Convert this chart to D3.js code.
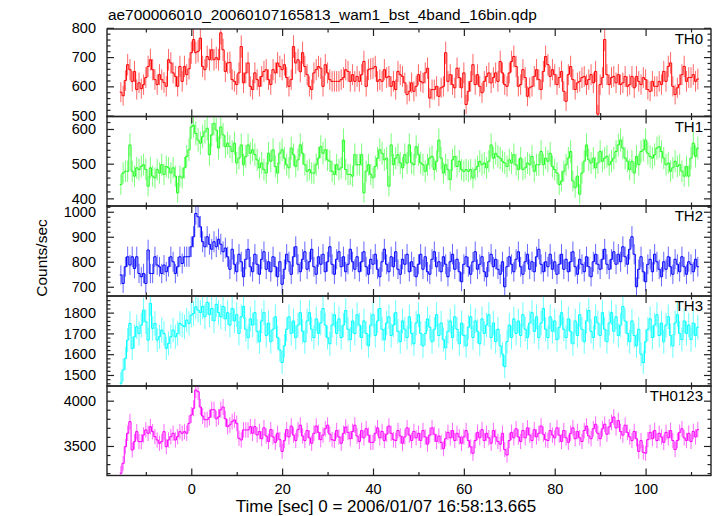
<!DOCTYPE html>
<html><head><meta charset="utf-8">
<script src="https://cdn.jsdelivr.net/npm/d3@7"></script>
<style>body{margin:0;background:#fff}svg{display:block}</style>
</head><body><svg id="c" width="717" height="516"></svg>
<script>
const title = "ae700006010_20060107165813_wam1_bst_4band_16bin.qdp";
const xLabel = "Time [sec] 0 = 2006/01/07 16:58:13.665";
const yLabel = "Counts/sec";
const binStart = -15.5, binWidth = 0.5;

const th0 = [
580,568,620,674,657,617,651,589,612,592,
606,630,668,691,657,623,606,640,623,613,
600,691,680,646,634,600,668,617,668,640,
660,715,760,715,720,765,668,657,702,691,
725,691,698,691,783,725,651,680,682,623,
617,606,646,736,612,646,680,600,589,646,
623,600,634,651,657,623,606,657,646,680,
668,657,674,630,600,623,736,680,691,650,
715,668,640,600,589,646,657,668,662,600,
674,646,623,617,617,617,617,623,630,657,
651,617,640,617,634,617,640,685,600,657,
660,662,668,617,623,617,657,630,634,600,
617,589,651,640,634,612,572,583,612,583,
600,640,617,612,646,662,560,589,589,600,
566,595,600,715,617,640,606,595,662,630,
595,646,538,583,617,674,606,640,600,578,
617,634,646,612,630,646,617,
685,646,606,600,646,685,702,668,600,606,
657,630,566,595,600,634,657,623,589,651,
702,674,634,657,640,606,630,651,583,549,
640,668,623,589,612,617,630,634,606,623,
640,612,651,505,606,630,760,640,606,630,
634,612,640,606,612,634,600,606,634,595,
634,617,606,630,623,589,583,617,600,600,
617,606,651,617,668,680,600,572,595,606,
640,668,617,630,630,640,617,625];

const th1 = [
440,473,478,478,554,478,464,488,483,492,
497,483,435,488,464,459,483,473,497,469,
492,488,473,488,464,416,464,459,488,521,
540,606,611,587,568,559,578,592,602,526,
583,616,597,545,606,583,549,559,549,535,
559,502,516,554,497,521,554,530,540,526,
511,488,502,483,473,530,507,540,492,473,
530,540,516,497,488,545,526,492,511,554,
530,497,478,483,473,473,497,516,549,530,
540,511,507,478,469,497,483,488,568,483,
469,469,464,526,497,497,526,416,478,497,
469,459,492,516,540,530,511,516,435,554,
497,516,526,502,488,526,502,
554,502,497,549,526,502,497,478,497,516,
521,483,507,568,516,473,497,483,454,511,
521,492,507,483,478,483,478,483,459,483,
492,507,497,502,488,507,554,516,530,521,
516,507,502,492,511,502,526,497,483,516,
483,488,502,497,521,478,497,497,535,497,
516,507,530,492,483,473,440,450,478,497,
516,535,450,431,464,412,473,507,554,511,
502,516,488,502,535,507,516,521,497,507,
516,535,554,568,545,516,507,483,507,473,
521,497,535,540,568,530,521,516,526,545,
549,535,516,497,502,478,488,507,492,497,
478,464,492,464,516,559,521,545];

const th2 = [
747,713,780,820,787,820,773,820,753,740,
753,713,847,753,753,820,787,780,753,787,
760,780,820,800,753,780,820,793,820,820,
820,860,900,993,980,
940,880,860,900,870,850,880,860,890,870,840,855,
820,770,850,790,760,830,800,740,810,850,780,760,
830,790,750,810,840,770,800,760,820,780,740,800,
710,770,830,800,750,820,860,790,760,810,840,770,
800,850,780,750,820,790,830,760,800,860,790,750,
810,840,780,820,760,790,850,800,770,820,760,800,
840,780,750,810,790,830,770,740,800,850,790,760,
820,780,840,770,750,810,790,830,760,800,780,740,
790,830,770,820,760,750,810,840,780,800,760,820,
790,740,800,830,770,810,760,720,790,820,780,750,
800,840,770,790,820,760,740,800,830,780,810,770,
750,800,700,780,820,790,760,810,840,780,750,800,
830,770,800,760,820,850,790,760,800,780,830,770,
800,750,790,830,770,810,760,800,840,780,750,810,
790,760,820,780,740,800,830,790,770,810,850,790,
770,810,840,790,830,800,860,820,790,850,900,830,
700,770,820,760,720,790,810,760,830,800,770,740,
800,770,820,780,750,810,790,760,820,780,750,800,
790,760,810,780];

const th3 = [
1460,1524,1580,1668,1748,1628,1684,1732,1700,1740,
1812,1756,1668,1845,1724,1748,1668,1684,1716,1700,
1628,1652,1684,1716,1684,1700,1748,1740,1732,1764,
1748,1788,1796,1828,1812,
1800,1830,1780,1850,1790,1820,1760,1840,1800,1780,1830,1770,
1800,1740,1820,1760,1790,1700,1780,1830,1720,1680,1770,1740,
1800,1710,1660,1760,1800,1690,1750,1660,1720,1780,1680,1620,
1560,1640,1720,1780,1700,1760,1680,1740,1800,1710,1660,1760,
1800,1720,1680,1770,1700,1750,1820,1740,1680,1650,1740,1790,
1700,1770,1680,1740,1810,1720,1670,1760,1700,1790,1740,1680,
1760,1700,1640,1740,1790,1690,1760,1820,1720,1670,1750,1780,
1690,1740,1800,1710,1660,1760,1720,1680,1780,1700,1650,1750,
1790,1700,1640,1700,1770,1730,1660,1720,1790,1690,1750,1670,
1630,1710,1760,1680,1780,1720,1650,1750,1690,1640,1730,1780,
1680,1760,1710,1650,1770,1700,1740,1790,1680,1750,1660,1720,
1640,1600,1540,1660,1740,1680,1770,1700,1760,1690,1790,1720,
1680,1750,1800,1710,1780,1680,1750,1820,1720,1680,1780,1710,
1760,1670,1730,1800,1720,1680,1770,1710,1650,1760,1690,1790,
1720,1660,1760,1810,1710,1680,1780,1750,1690,1800,1720,1660,
1750,1800,1710,1780,1690,1740,1830,1760,1700,1660,1760,1690,
1640,1720,1600,1560,1660,1720,1770,1680,1740,1790,1690,1750,
1660,1740,1780,1690,1640,1750,1790,1700,1670,1760,1700,1740,
1670,1750,1690,1730];

const th0123 = [
3199,3309,3492,3640,3768,3456,3548,3658,3548,3548,
3621,3677,3640,3713,3658,3603,3566,3530,3548,3658,
3492,3566,3603,3640,3566,3603,3658,3640,3658,3640,
3750,3842,3916,4118,4099,
3930,3830,3790,3790,3815,3900,3900,3800,3820,3900,3930,3800,
3713,3732,3768,3787,3750,3585,3566,3677,3677,3677,3713,3640,3713,3621,
3660,3580,3700,3610,3550,3680,3600,3540,3640,3570,
3440,3560,3680,3600,3720,3620,3560,3680,3730,3610,
3560,3670,3590,3530,3640,3720,3650,3570,3620,3690,
3730,3630,3570,3560,3670,3600,3530,3640,3710,3650,
3580,3660,3730,3610,3550,3670,3590,3690,3620,3540,
3540,3640,3700,3590,3660,3560,3630,3720,3640,3570,
3560,3670,3610,3530,3600,3700,3620,3560,3660,3590,
3640,3560,3670,3600,3520,3620,3700,3630,3550,3610,
3540,3470,3580,3650,3590,3670,3560,3640,3600,3530,
3600,3670,3560,3490,3420,3560,3650,3590,3680,3560,
3640,3590,3530,3670,3600,3550,3520,3640,3460,3400,
3560,3650,3590,3690,3600,3550,3670,3590,3700,3620,
3560,3680,3600,3640,3720,3630,3570,3560,3670,3620,
3590,3700,3620,3550,3670,3590,3540,3640,3700,3580,
3660,3590,3550,3670,3720,3610,3580,3690,3740,3640,
3580,3690,3740,3630,3710,3760,3820,3700,3780,3660,
3620,3730,3650,3600,3560,3660,3580,3440,3560,3430,
3420,3570,3650,3580,3670,3560,3640,3600,3540,3650,
3590,3670,3560,3460,3560,3650,3690,3590,3560,3640,
3550,3660,3600,3680];

const bands = ["TH0", "TH1", "TH2", "TH3", "TH0123"];
const series = [th0, th1, th2, th3, th0123];
const colors = ["#ff0000", "#22ff22", "#0000ff", "#00ffff", "#ff00ff"];
const yDomains = [[497, 796], [378, 636], [663, 1023], [1447, 1880], [3174, 4162]];
const yMajor = [[500, 600, 700, 800], [400, 500, 600], [700, 800, 900, 1000], [1500, 1600, 1700, 1800], [3500, 4000]];
const yMinorStep = [20, 20, 20, 20, 100];
const xMajor = [0, 20, 40, 60, 80, 100];
const xMinor = [-10, 10, 30, 50, 70, 90, 110];
const xDomain = [-18.55, 114.4];

const svg = d3.select("#c");
const L = 107, R = 711;
const edges = [29, 116.5, 206, 296, 386, 475.5];
const FONT = "'Liberation Sans', Arial, Helvetica, sans-serif";
const x = d3.scaleLinear().domain(xDomain).range([L, R]);
const fmt = d3.format("d");

svg.append("defs").selectAll("clipPath").data(bands).join("clipPath")
  .attr("id", (d, i) => "clip" + i)
  .append("rect").attr("x", L).attr("width", R - L)
  .attr("y", (d, i) => edges[i]).attr("height", (d, i) => edges[i + 1] - edges[i]);

bands.forEach((band, i) => {
  const top = edges[i], bot = edges[i + 1];
  const y = d3.scaleLinear().domain(yDomains[i]).range([bot, top]);
  const g = svg.append("g");
  const vals = series[i];
  const dg = g.append("g").attr("clip-path", `url(#clip${i})`)
    .attr("stroke", colors[i]).attr("stroke-width", 1).attr("fill", "none");
  // error bars: Poisson error of each 0.5 s bin rate
  dg.append("g").attr("stroke-opacity", 0.6).selectAll("line").data(vals).join("line")
    .attr("x1", (v, k) => x(binStart + k * binWidth)).attr("x2", (v, k) => x(binStart + k * binWidth))
    .attr("y1", v => y(v - Math.sqrt(v / binWidth))).attr("y2", v => y(v + Math.sqrt(v / binWidth)));
  // histogram step line
  const pts = vals.flatMap((v, k) => [[binStart + (k - 0.5) * binWidth, v], [binStart + (k + 0.5) * binWidth, v]]);
  dg.append("path").attr("d", d3.line().x(p => x(p[0])).y(p => y(p[1]))(pts));

  const yMin = d3.range(Math.ceil(yDomains[i][0] / yMinorStep[i]) * yMinorStep[i], yDomains[i][1], yMinorStep[i])
    .filter(v => !yMajor[i].includes(v));
  g.append("g").attr("transform", `translate(${L},0)`)
    .call(d3.axisRight(y).tickValues(yMajor[i]).tickSize(7).tickFormat(""));
  g.append("g").attr("transform", `translate(${L},0)`)
    .call(d3.axisRight(y).tickValues(yMin).tickSize(3.5).tickFormat(""));
  g.append("g").attr("transform", `translate(${R},0)`)
    .call(d3.axisLeft(y).tickValues(yMajor[i]).tickSize(7).tickFormat(""));
  g.append("g").attr("transform", `translate(${R},0)`)
    .call(d3.axisLeft(y).tickValues(yMin).tickSize(3.5).tickFormat(""));
  g.append("g").attr("transform", `translate(${L},0)`)
    .call(d3.axisLeft(y).tickValues(yMajor[i]).tickSize(0).tickPadding(11).tickFormat(fmt))
    .call(a => a.select(".domain").remove())
    .selectAll("text").attr("font-family", FONT).attr("font-size", 14.5).attr("fill", "#000");
  g.append("g").attr("transform", `translate(0,${top})`)
    .call(d3.axisBottom(x).tickValues(xMajor).tickSize(7).tickFormat(""));
  g.append("g").attr("transform", `translate(0,${top})`)
    .call(d3.axisBottom(x).tickValues(xMinor).tickSize(3.5).tickFormat(""));
  g.append("g").attr("transform", `translate(0,${bot})`)
    .call(d3.axisTop(x).tickValues(xMajor).tickSize(7).tickFormat(""));
  g.append("g").attr("transform", `translate(0,${bot})`)
    .call(d3.axisTop(x).tickValues(xMinor).tickSize(3.5).tickFormat(""));
  g.selectAll(".domain").remove();
  g.selectAll(".tick line").attr("stroke", "#222").attr("stroke-width", 1.2);

  g.append("rect").attr("x", L).attr("y", top).attr("width", R - L).attr("height", bot - top)
    .attr("fill", "none").attr("stroke", "#222").attr("stroke-width", 1.4);
  g.append("text").attr("x", 703).attr("y", top + 15).attr("text-anchor", "end")
    .attr("font-family", FONT).attr("font-size", 15).text(band);
});

svg.append("g").attr("transform", `translate(0,${edges[5]})`)
  .call(d3.axisBottom(x).tickValues(xMajor).tickSize(0).tickPadding(8).tickFormat(fmt))
  .call(a => a.select(".domain").remove())
  .selectAll("text").attr("font-family", FONT).attr("font-size", 14.5).attr("fill", "#000");

svg.append("text").attr("x", 108).attr("y", 20).attr("font-family", FONT).attr("font-size", 15.4).text(title);
svg.append("text").attr("x", 386).attr("y", 512).attr("text-anchor", "middle")
  .attr("font-family", FONT).attr("font-size", 17).text(xLabel);
svg.append("text").attr("transform", "translate(47,258) rotate(-90)").attr("text-anchor", "middle")
  .attr("font-family", FONT).attr("font-size", 15.5).text(yLabel);
</script></body></html>
